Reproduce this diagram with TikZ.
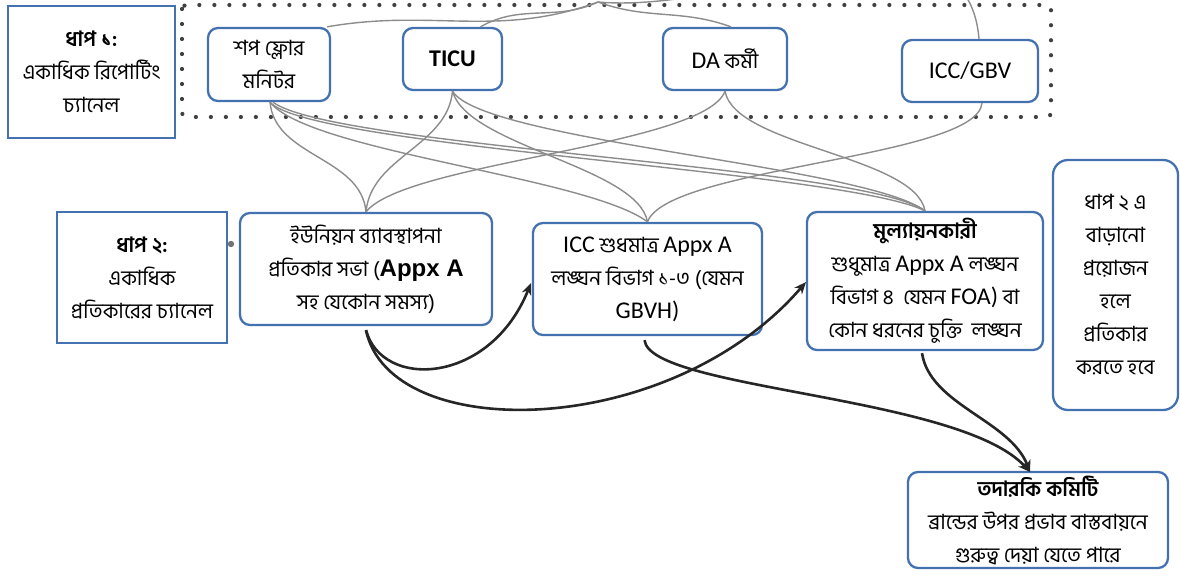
\documentclass[tikz,border=0pt]{standalone}
\usepackage{fontspec}
\setmainfont{Carlito}
\newfontfamily\bn[Script=Bengali]{Hind Siliguri}
\newfontfamily\arl{Liberation Sans}
\usetikzlibrary{arrows.meta,calc}
\definecolor{bblue}{RGB}{68,114,176}
\newcommand\bnf{\fontsize{21}{33}\selectfont\bn}
\newcommand\lt[1]{{\rmfamily\fontsize{24}{33}\selectfont #1}}
\begin{document}
\begin{tikzpicture}[x=1pt,y=-1pt,
  box/.style={draw=bblue, line width=2.3pt, fill=white, rounded corners=10pt, align=center, inner sep=2pt, font=\bnf},
  sqbox/.style={box, rounded corners=0pt},
  fan/.style={draw=black!45, line width=1.4pt},
  flow/.style={draw=black!85, line width=2.6pt, -{Stealth[length=12pt,width=10pt]}}]
\useasboundingbox (0,0) rectangle (1180,577);
% dotted frame
\draw[black!75, line width=4.2pt, line cap=round, dash pattern=on 0pt off 15pt, rounded corners=4pt] (182,5) rectangle (1051,117);
% step boxes
\node[sqbox, minimum width=167, minimum height=132] (s1) at (91.5,72) {{\bfseries ধাপ ১:}\\একাধিক রিপোর্টিং\\চ্যানেল};
\node[sqbox, minimum width=170, minimum height=131] (s2) at (142,277.5) {{\bfseries ধাপ ২:}\\একাধিক\\প্রতিকারের চ্যানেল};
% top channels
\node[box, minimum width=122, minimum height=73] (sf) at (269,64.5) {শপ ফ্লোর\\মনিটর};
\node[box, minimum width=99, minimum height=62] (ticu) at (452.5,59) {\lt{\bfseries TICU}};
\node[box, minimum width=124, minimum height=62] (da) at (725,59) {\lt{DA} কর্মী};
\node[box, minimum width=136, minimum height=62] (gbv) at (970,71) {\lt{ICC/GBV}};
% middle channels
\node[box, minimum width=252, minimum height=112] (un) at (366,269) {ইউনিয়ন ব্যাবস্থাপনা\\প্রতিকার সভা ({\arl\fontsize{24}{33}\selectfont\bfseries Appx A}\\সহ যেকোন সমস্য)};
\node[box, minimum width=229, minimum height=112] (icc) at (647.5,279) {\lt{ICC} শুধমাত্র \lt{Appx A}\\লঙ্ঘন বিভাগ ১-৩ (যেমন\\\lt{GBVH)}};
\node[box, minimum width=236, minimum height=138] (ev) at (925,281) {{\bfseries মুল্যায়নকারী}\\শুধুমাত্র \lt{Appx A} লঙ্ঘন\\বিভাগ ৪ \ যেমন \lt{FOA)} বা\\কোন ধরনের চুক্তি \ লঙ্ঘন};
\node[box, rounded corners=15pt, minimum width=125, minimum height=250] (nt) at (1115.5,285) {ধাপ ২ এ\\বাড়ানো\\প্রয়োজন\\হলে\\প্রতিকার\\করতে হবে};
\node[box, minimum width=260, minimum height=96] (cm) at (1038,520) {{\bfseries তদারকি কমিটি}\\ব্রান্ডের উপর প্রভাব বাস্তবায়নে\\গুরুত্ব দেয়া যেতে পারে};
% small dot
\fill[black!55] (231,244) circle (3.2);
% apex fan at top
\coordinate (apex) at (598,2);
\draw[fan] (apex) to[out=200,in=10] ($(sf.north east)+(-4,0)$);
\draw[fan] (apex) to[out=205,in=30] ($(ticu.north)+(28,0)$);
\draw[fan] (apex) to[out=-20,in=160] ($(da.north)+(6,0)$);
\draw[fan] (apex) to[out=-5,in=95] ($(gbv.north)+(9,0)$);
% fan from reporting channels to remedy channels
\coordinate (sfo) at ($(sf.south)+(1,0)$);
\coordinate (gbvo) at ($(gbv.south)+(12,0)$);
\draw[fan] (sfo) .. controls +(5,55) and +(-5,-55) .. (un.north);
\draw[fan] (sfo) .. controls +(40,50) and +(-60,-45) .. (icc.north);
\draw[fan] (sfo) .. controls +(40,45) and +(-80,-40) .. (ev.north);
\draw[fan] ($(sfo)+(3,0)$) .. controls +(60,45) and +(-60,-45) .. (ev.north);
\draw[fan] (ticu.south) .. controls +(-5,55) and +(5,-55) .. (un.north);
\draw[fan] (ticu.south) .. controls +(15,55) and +(-10,-55) .. (icc.north);
\draw[fan] (ticu.south) .. controls +(30,50) and +(-60,-45) .. (ev.north);
\draw[fan] (da.south) .. controls +(-20,55) and +(40,-50) .. (un.north);
\draw[fan] (da.south) .. controls +(10,55) and +(-10,-55) .. (ev.north);
\draw[fan] (gbvo) .. controls +(-5,55) and +(20,-55) .. (icc.north);
% remedy flows
\coordinate (iccin) at (531,283);
\coordinate (evin) at (806,282);
\coordinate (cmin) at (1030,472);
\draw[flow] ($(un.south)+(0,4)$) .. controls (382,390) and (490,385) .. (iccin);
\draw[flow] ($(un.south)+(0,4)$) .. controls (390,445) and (670,440) .. (evin);
\draw[flow] ($(icc.south)+(-3,4)$) .. controls (650,390) and (960,395) .. (cmin);
\draw[flow] ($(ev.south)+(-3,2)$) .. controls (930,405) and (1010,420) .. (cmin);
\end{tikzpicture}
\end{document}
